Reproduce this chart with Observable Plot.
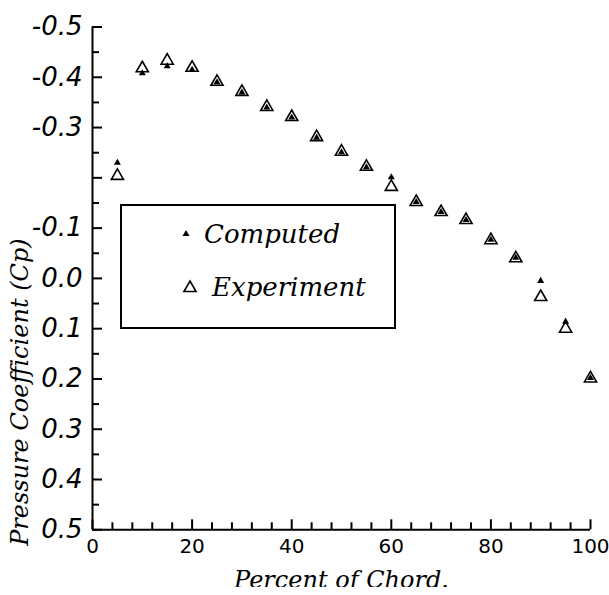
<!DOCTYPE html>
<html>
<head>
<meta charset="utf-8">
<script src="https://cdn.jsdelivr.net/npm/d3@7"></script>
<script src="https://cdn.jsdelivr.net/npm/@observablehq/plot@0.6"></script>
<style>
  html, body { margin: 0; padding: 0; background: #fff; }
  #chart { width: 609px; height: 595px; overflow: hidden; }
</style>
</head>
<body>
<div id="chart"></div>
<script>
// ---- data ----
const chord = [5, 10, 15, 20, 25, 30, 35, 40, 45, 50, 55, 60, 65, 70, 75, 80, 85, 90, 95, 100];
const computed = [-0.230, -0.408, -0.422, -0.415, -0.390, -0.370, -0.340, -0.320, -0.280, -0.251, -0.221, -0.201, -0.152, -0.132, -0.116, -0.077, -0.041, 0.005, 0.086, 0.198];
const experiment = [-0.204, -0.418, -0.433, -0.419, -0.391, -0.371, -0.341, -0.321, -0.281, -0.252, -0.222, -0.182, -0.152, -0.132, -0.116, -0.076, -0.040, 0.037, 0.100, 0.199];

const xMajorTicks = [0, 20, 40, 60, 80, 100];
const xMinorTicks = [4, 8, 12, 16, 24, 28, 32, 36, 44, 48, 52, 56, 64, 68, 72, 76, 84, 88, 92, 96];
const yMajorTicks = [-0.5, -0.4, -0.3, -0.2, -0.1, 0, 0.1, 0.2, 0.3, 0.4, 0.5];
const yMinorTicks = [-0.45, -0.35, -0.25, -0.15, -0.05, 0.05, 0.15, 0.25, 0.35, 0.45];
const yTickLabels = [-0.5, -0.4, -0.3, -0.1, 0, 0.1, 0.2, 0.3, 0.4, 0.5];

const xTitle = "Percent of Chord.";
const yTitle = "Pressure Coefficient (Cp)";
const seriesNames = ["Computed", "Experiment"];

// ---- layout ----
const W = 609, H = 587;
const mL = 92, mR = 19, mT = 26.5, mB = 57.7;
const plotW = W - mL - mR, plotH = H - mT - mB;
const majorLen = 10, minorLen = 7;

const rows = chord.map((c, i) => ({chord: c, computed: computed[i], experiment: experiment[i]}));

const serif = "'DejaVu Serif', serif";
const sans = "'DejaVu Sans', sans-serif";

const chart = Plot.plot({
  width: W,
  height: H,
  marginLeft: mL,
  marginRight: mR,
  marginTop: mT,
  marginBottom: mB,
  style: {background: "#fff", color: "#000", overflow: "hidden"},
  x: {domain: [0, 100]},
  y: {domain: [-0.5, 0.5], reverse: true},
  marks: [
    // axis lines
    Plot.ruleX([0], {stroke: "#000", strokeWidth: 2}),
    Plot.ruleY([0.5], {stroke: "#000", strokeWidth: 2}),
    // inward ticks on the y axis
    Plot.tickY(yMajorTicks, {y: d => d, stroke: "#000", strokeWidth: 2, insetRight: plotW - majorLen}),
    Plot.tickY(yMinorTicks, {y: d => d, stroke: "#000", strokeWidth: 2, insetRight: plotW - minorLen}),
    // inward ticks on the x axis
    Plot.tickX(xMajorTicks, {x: d => d, stroke: "#000", strokeWidth: 2, insetTop: plotH - majorLen}),
    Plot.tickX(xMinorTicks, {x: d => d, stroke: "#000", strokeWidth: 2, insetTop: plotH - minorLen}),
    // tick labels
    Plot.axisY({
      ticks: yTickLabels, tickSize: 0, tickPadding: 10, tickFormat: d => d.toFixed(1),
      fontSize: 26, fontFamily: sans, fontStyle: "italic", label: null
    }),
    Plot.axisX({
      ticks: xMajorTicks, tickSize: 0, tickPadding: 9, tickFormat: d => String(d),
      fontSize: 20, fontFamily: sans, label: null
    }),
    // axis titles
    Plot.text([xTitle], {
      text: d => d, frameAnchor: "bottom", dy: 58, lineAnchor: "bottom",
      fontSize: 24, fontFamily: serif, fontStyle: "italic", fill: "#000"
    }),
    Plot.text([yTitle], {
      text: d => d, frameAnchor: "bottom-left", dx: -72, dy: 16, rotate: -90,
      textAnchor: "start", lineAnchor: "middle",
      fontSize: 24, fontFamily: serif, fontStyle: "italic", fill: "#000"
    }),
    // data
    Plot.dot(rows, {x: "chord", y: "experiment", symbol: "triangle", r: 4.5, stroke: "#000", strokeWidth: 1.6, fill: "none"}),
    Plot.dot(rows, {x: "chord", y: "computed", symbol: "triangle", r: 2.6, fill: "#000", stroke: "none"})
  ]
});

document.getElementById("chart").appendChild(chart);

// ---- legend box ----
const svg = d3.select(chart);
const lg = svg.append("g").attr("class", "legend").attr("text-anchor", "start");
lg.append("rect")
  .attr("x", 121).attr("y", 205).attr("width", 274).attr("height", 123)
  .attr("fill", "#fff").attr("stroke", "#000").attr("stroke-width", 2);
lg.append("path")
  .attr("transform", "translate(186,234)")
  .attr("d", d3.symbol(d3.symbolTriangle, 2.6 * 2.6 * Math.PI)())
  .attr("fill", "#000");
lg.append("path")
  .attr("transform", "translate(190,288)")
  .attr("d", d3.symbol(d3.symbolTriangle, 4.5 * 4.5 * Math.PI)())
  .attr("fill", "none").attr("stroke", "#000").attr("stroke-width", 1.6);
lg.append("text")
  .attr("x", 204).attr("y", 243).attr("text-anchor", "start")
  .attr("font-family", serif).attr("font-style", "italic").attr("font-size", 26)
  .attr("fill", "#000").text(seriesNames[0]);
lg.append("text")
  .attr("x", 212).attr("y", 296).attr("text-anchor", "start")
  .attr("font-family", serif).attr("font-style", "italic").attr("font-size", 26)
  .attr("fill", "#000").text(seriesNames[1]);
</script>
</body>
</html>
